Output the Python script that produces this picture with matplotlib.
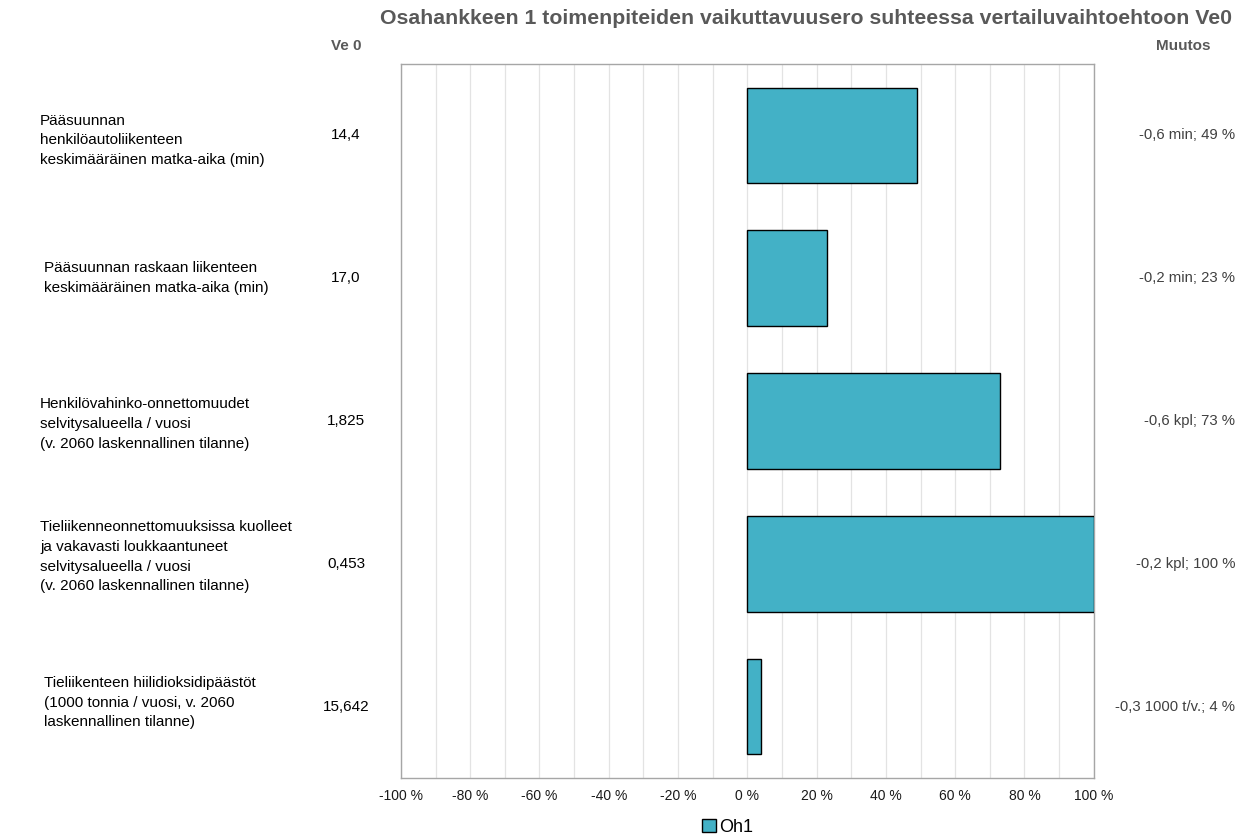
import matplotlib
matplotlib.use("Agg")
import matplotlib.pyplot as plt
from matplotlib.ticker import MultipleLocator, FuncFormatter
from matplotlib.patches import Patch

plt.rcParams['font.family'] = ['Liberation Sans', 'DejaVu Sans']

categories = [
    "Pääsuunnan\nhenkilöautoliikenteen\nkeskimääräinen matka-aika (min)",
    "Pääsuunnan raskaan liikenteen\nkeskimääräinen matka-aika (min)",
    "Henkilövahinko-onnettomuudet\nselvitysalueella / vuosi\n(v. 2060 laskennallinen tilanne)",
    "Tieliikenneonnettomuuksissa kuolleet\nja vakavasti loukkaantuneet\nselvitysalueella / vuosi\n(v. 2060 laskennallinen tilanne)",
    "Tieliikenteen hiilidioksidipäästöt\n(1000 tonnia / vuosi, v. 2060\nlaskennallinen tilanne)",
]
ve0_values = ["14,4", "17,0", "1,825", "0,453", "15,642"]
oh1_pct = [49, 23, 73, 100, 4]
change_labels = [
    "-0,6 min; 49 %",
    "-0,2 min; 23 %",
    "-0,6 kpl; 73 %",
    "-0,2 kpl; 100 %",
    "-0,3 1000 t/v.; 4 %",
]

# small horizontal/vertical nudges of the row captions (pixels)
label_dx = [40, 44, 40, 40, 44]
label_dy = [-5, 0, -3, 7, 4]

fig = plt.figure(figsize=(12.45, 8.38), dpi=100)
ax = fig.add_axes([0.322, 0.0716, 0.5565, 0.852])

y = list(range(len(categories)))
bar_color = "#43B1C6"
ax.barh(y, oh1_pct, height=0.67, color=bar_color, edgecolor="black", linewidth=1.0, zorder=3)

ax.set_xlim(-100, 100)
ax.set_ylim(len(categories) - 0.5, -0.5)
ax.xaxis.set_major_locator(MultipleLocator(20))
ax.xaxis.set_minor_locator(MultipleLocator(10))
ax.xaxis.set_major_formatter(FuncFormatter(lambda v, p: f"{int(round(v))} %"))
ax.grid(axis="x", which="both", color="#E3E3E3", linewidth=0.9, zorder=0)
ax.set_yticks([])
ax.tick_params(axis="x", which="both", length=0, labelsize=10, colors="#1a1a1a", pad=8)
for s in ax.spines.values():
    s.set_color("#A6A6A6")
    s.set_linewidth(1.0)

# Row annotations: category names, baseline values and change labels
for yi, cat, v0, ch, dx, dy in zip(y, categories, ve0_values, change_labels, label_dx, label_dy):
    ax.annotate(cat, xy=(0, yi), xycoords=("figure fraction", "data"),
                xytext=(dx, dy), textcoords="offset pixels",
                ha="left", va="center", fontsize=11, color="black", linespacing=1.52)
    ax.annotate(v0, xy=(0, yi), xycoords=("figure fraction", "data"),
                xytext=(346, 0), textcoords="offset pixels",
                ha="center", va="center", fontsize=11, color="black")
    ax.annotate(ch, xy=(1, yi), xycoords=("figure fraction", "data"),
                xytext=(-10, 0), textcoords="offset pixels",
                ha="right", va="center", fontsize=10.7, color="#404040")

fig.text(806 / 1245, 1 - 18 / 838,
         "Osahankkeen 1 toimenpiteiden vaikuttavuusero suhteessa vertailuvaihtoehtoon Ve0",
         ha="center", va="center", fontsize=15.3, fontweight="bold", color="#595959")
fig.text(346 / 1245, 1 - 46 / 838, "Ve 0", ha="center", va="center",
         fontsize=11, fontweight="bold", color="#595959")
fig.text(1183 / 1245, 1 - 46 / 838, "Muutos", ha="center", va="center",
         fontsize=11, fontweight="bold", color="#595959")

handle = Patch(facecolor=bar_color, edgecolor="black", linewidth=1.0)
fig.legend([handle], ["Oh1"], loc="center", bbox_to_anchor=(728 / 1245, 1 - 827 / 838),
           frameon=False, fontsize=13, handlelength=0.75, handleheight=0.75,
           handletextpad=0.2, borderpad=0)

fig.savefig("out.png", dpi=100, facecolor="white")
